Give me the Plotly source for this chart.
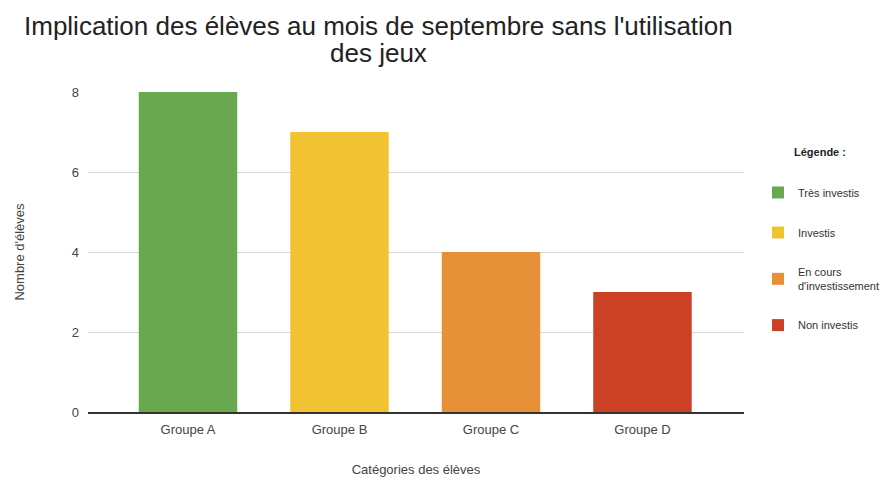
import plotly.graph_objects as go

categories = ["Groupe A", "Groupe B", "Groupe C", "Groupe D"]
values = [8, 7, 4, 3]
legend_names = ["Très investis", "Investis", "En cours<br>d'investissement", "Non investis"]
colors = ["#6aa84f", "#f1c232", "#e69138", "#cc4125"]
title_lines = ["Implication des élèves au mois de septembre sans l'utilisation", "des jeux"]

fig = go.Figure()
for i, (cat, val, name, col) in enumerate(zip(categories, values, legend_names, colors)):
    fig.add_trace(go.Bar(
        x=[cat], y=[val], name=name, marker_color=col, width=0.65,
        legendgroup=f"g{i}", marker_line_width=0,
    ))

OFF = 8  # default page body margin
W, H = 895 - OFF, 480 - OFF
ml, mt = 88 - OFF, 92 - OFF
pw, ph = 657, 320
mr, mb = W - ml - pw, H - mt - ph

def px_x(x):
    return (x - OFF - ml) / pw

def px_y(y):
    return (mt + ph - (y - OFF)) / ph

# title as two centred lines
for line, yb in zip(title_lines, [37, 64]):
    fig.add_annotation(
        text=line, xref="paper", yref="paper", x=px_x(379), y=px_y(yb),
        xanchor="center", yanchor="bottom", showarrow=False,
        font=dict(size=26, color="#222"), yshift=-6,
    )

# legend title
fig.add_annotation(
    text="<b>Légende :</b>", xref="paper", yref="paper", x=px_x(793), y=px_y(152),
    xanchor="left", yanchor="middle", showarrow=False,
    font=dict(size=11, color="#222"),
)

fig.update_layout(
    width=W, height=H,
    margin=dict(l=ml, r=mr, t=mt, b=mb),
    paper_bgcolor="white", plot_bgcolor="white",
    barmode="overlay",
    font=dict(family="Liberation Sans, Arial, sans-serif", color="#444"),
    xaxis=dict(
        range=[-0.66, 3.67], showgrid=False, showline=True, linecolor="#333", linewidth=1.5,
        ticks="", tickfont=dict(size=13, color="#444"), automargin=False, ticklabelstandoff=5,
        title=dict(text="Catégories des élèves", font=dict(size=13, color="#444"), standoff=29),
    ),
    yaxis=dict(
        range=[0, 8], tickvals=[0, 2, 4, 6, 8], showgrid=True, gridcolor="#d9d9d9",
        zeroline=False, showline=False, ticks="", ticklabelstandoff=8, automargin=False,
        tickfont=dict(size=13, color="#444"),
        title=dict(text="Nombre d'élèves", font=dict(size=13, color="#444"), standoff=44),
    ),
    legend=dict(
        x=px_x(758), y=px_y(178), xanchor="left", yanchor="top",
        font=dict(size=11, color="#333"),
        tracegroupgap=21, itemsizing="constant",
    ),
    showlegend=True,
)

fig.write_html("out.html")
